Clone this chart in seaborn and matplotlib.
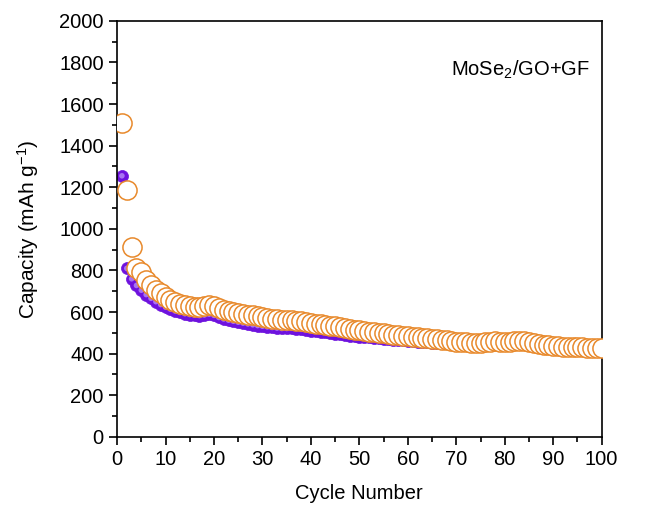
import numpy as np
import pandas as pd
import matplotlib
matplotlib.use("Agg")
import matplotlib.pyplot as plt
import seaborn as sns
from matplotlib.ticker import MultipleLocator

cycles = list(range(1, 101))

charge_capacity = [
    1510, 1185, 913, 810, 792, 755, 730, 708, 690, 673,
    660, 650, 641, 635, 630, 626, 622, 628, 636, 628,
    620, 612, 606, 601, 596, 592, 588, 584, 580, 576,
    572, 568, 565, 562, 562, 560, 558, 555, 552, 548,
    545, 541, 538, 535, 532, 528, 524, 520, 516, 512,
    508, 505, 502, 500, 498, 495, 492, 489, 486, 483,
    480, 478, 476, 474, 472, 470, 467, 464, 461, 458,
    456, 455, 453, 452, 452, 455, 458, 459, 458, 457,
    457, 460, 462, 460, 456, 452, 448, 444, 441, 438,
    436, 434, 433, 432, 431, 430, 429, 428, 428, 428,
]

discharge_capacity = [
    1255, 810, 760, 728, 705, 684, 666, 650, 636, 624,
    614, 605, 598, 592, 588, 585, 583, 586, 590, 584,
    574, 567, 561, 556, 551, 547, 543, 539, 535, 532,
    529, 526, 523, 521, 521, 522, 520, 517, 514, 511,
    508, 505, 502, 499, 496, 493, 490, 487, 484, 482,
    480, 478, 476, 474, 472, 470, 468, 466, 464, 462,
    460, 458, 456, 454, 452, 451, 450, 449, 448, 447,
    445, 444, 443, 442, 442, 444, 446, 446, 445, 444,
    444, 446, 447, 445, 441, 437, 434, 431, 428, 426,
    424, 422, 421, 420, 419, 418, 418, 417, 417, 417,
]

sns.set_theme(style="ticks")
plt.rcParams['font.family'] = ['Liberation Sans', 'DejaVu Sans']
plt.rcParams['mathtext.fontset'] = 'custom'
plt.rcParams['mathtext.rm'] = 'Liberation Sans'
plt.rcParams['mathtext.it'] = 'Liberation Sans'

df = pd.DataFrame({"cycle": cycles, "charge": charge_capacity, "discharge": discharge_capacity})

fig = plt.figure(figsize=(6.54, 5.08), dpi=100)
ax = fig.add_axes([0.179, 0.140, 0.741, 0.819])

purple = "#6E12DE"
orange = "#E8892B"

sns.scatterplot(data=df, x="cycle", y="discharge", ax=ax, s=75, color=purple,
                edgecolor=purple, linewidth=0.5, zorder=2)
# sphere highlight
sns.scatterplot(data=df, x="cycle", y="discharge", ax=ax, s=16, color="#A874F2",
                edgecolor="none", linewidth=0, zorder=2.1)
sns.scatterplot(data=df, x="cycle", y="charge", ax=ax, s=190, facecolor="white",
                edgecolor=orange, linewidth=1.1, zorder=3)

ax.set_xlim(0, 100)
ax.set_ylim(0, 2000)
ax.xaxis.set_major_locator(MultipleLocator(10))
ax.xaxis.set_minor_locator(MultipleLocator(5))
ax.yaxis.set_major_locator(MultipleLocator(200))
ax.yaxis.set_minor_locator(MultipleLocator(100))
ax.tick_params(axis='both', which='major', direction='out', length=6, width=1.2,
               labelsize=14.5, color='black', labelcolor='black')
ax.tick_params(axis='both', which='minor', direction='out', length=3.5, width=1.2, color='black')
for sp in ax.spines.values():
    sp.set_visible(True)
    sp.set_linewidth(1.2)
    sp.set_color('black')

ax.set_xlabel("Cycle Number", fontsize=14.5, color='black', labelpad=11)
ax.set_ylabel("Capacity (mAh g$^{-1}$)", fontsize=15, color='black', labelpad=13)

ax.text(0.975, 0.882, "MoSe$_2$/GO+GF", transform=ax.transAxes, fontsize=14.5,
        ha='right', va='center', color='black')

fig.savefig("out.png", dpi=100)
